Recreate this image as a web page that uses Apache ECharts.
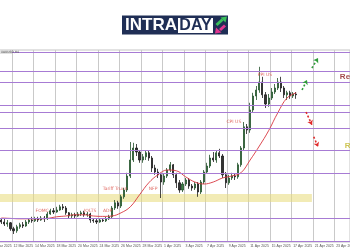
<!DOCTYPE html>
<html><head><meta charset="utf-8">
<script src="https://cdn.jsdelivr.net/npm/echarts@6/dist/echarts.min.js"></script>
<style>html,body{margin:0;padding:0;background:#fff}#c{width:350px;height:250px}</style>
</head><body><div id="c"></div>
<script>
// ---- data ----
const tickLabels = ['10 Mar 2025','12 Mar 2025','14 Mar 2025','18 Mar 2025','20 Mar 2025','24 Mar 2025','26 Mar 2025','28 Mar 2025','1 Apr 2025','3 Apr 2025','7 Apr 2025','9 Apr 2025','11 Apr 2025','15 Apr 2025','17 Apr 2025','21 Apr 2025','23 Apr 2025'];
const opens = [3055,3050,3045,3048,3033,3028,3038,3043,3040,3050,3055,3053,3058,3055,3060,3058,3070,3078,3075,3080,3088,3085,3073,3065,3068,3065,3070,3073,3068,3070,3055,3053,3050,3055,3053,3058,3063,3085,3098,3090,3113,3130,3165,3205,3235,3225,3205,3213,3223,3210,3185,3175,3168,3150,3165,3180,3193,3168,3148,3130,3145,3155,3140,3135,3145,3125,3150,3175,3190,3210,3205,3223,3215,3168,3148,3160,3165,3163,3193,3235,3288,3280,3330,3365,3380,3400,3368,3345,3360,3375,3385,3400,3385,3368,3373,3365,3370];
const closes = [3050,3045,3048,3033,3028,3038,3043,3040,3050,3055,3053,3058,3055,3060,3058,3070,3078,3075,3080,3088,3085,3073,3065,3068,3065,3070,3073,3068,3070,3055,3053,3050,3055,3053,3058,3063,3085,3098,3090,3113,3130,3165,3205,3235,3225,3205,3213,3223,3210,3185,3175,3168,3150,3165,3180,3193,3168,3148,3130,3145,3155,3140,3135,3145,3125,3150,3175,3190,3210,3205,3223,3215,3168,3148,3160,3165,3163,3193,3235,3288,3280,3330,3365,3380,3400,3368,3345,3360,3375,3385,3400,3385,3368,3373,3365,3370,3368];
const highs = [3060,3058,3055,3050,3038,3043,3048,3050,3055,3060,3063,3063,3063,3065,3065,3075,3083,3085,3088,3093,3095,3090,3075,3073,3073,3075,3078,3078,3075,3073,3060,3058,3060,3060,3063,3068,3090,3105,3103,3118,3135,3173,3250,3248,3245,3230,3220,3228,3230,3215,3193,3183,3173,3170,3185,3200,3195,3173,3155,3150,3160,3160,3145,3150,3150,3155,3180,3198,3218,3225,3230,3233,3220,3175,3168,3173,3170,3198,3240,3300,3295,3348,3373,3390,3438,3413,3375,3370,3385,3395,3410,3413,3390,3378,3378,3375,3375];
const lows = [3045,3040,3038,3028,3020,3023,3033,3035,3038,3045,3048,3050,3050,3053,3050,3055,3068,3070,3073,3078,3080,3068,3058,3060,3060,3063,3065,3063,3063,3048,3048,3045,3048,3050,3050,3055,3060,3080,3083,3085,3108,3125,3160,3200,3215,3198,3198,3205,3203,3175,3168,3160,3110,3143,3160,3175,3160,3135,3123,3125,3140,3133,3128,3130,3113,3120,3145,3170,3185,3200,3198,3210,3160,3135,3143,3155,3155,3158,3188,3230,3270,3273,3325,3355,3373,3360,3335,3338,3355,3370,3380,3375,3360,3355,3358,3360,3358];
const maCandle = [0,3,6,9,12,15,18,21,24,27,30,33,36,39,42,45,48,51,54,57,60,63,66,69,72,75,78,81,84,87,90,93,96];
const maValues = [3060,3059,3058,3058,3058,3059,3063,3065,3068,3068,3065,3064,3065,3073,3088,3118,3148,3168,3180,3178,3163,3150,3145,3150,3160,3165,3173,3205,3240,3278,3323,3360,3373];
const levels = [3475,3427.5,3400,3342.5,3325,3285,3230,3172.5,3060,3001];
const bandLow = 3100, bandHigh = 3120, bandFrom = -0.5, bandTo = 104.1;
const eventNames = ['FOMC','JOLTS','ADP','Tariff Truce','NFP','CPI US','PPI US'];
const eventSlot = [16.3,31.9,37.6,40.0,52.4,78.7,88.8];
const eventPrice = [3078,3078,3078,3133,3133,3300,3418];
const sideNames = ['Resistance','Retest'];
const sideSlot = [113.2,114.8];
const sidePrice = [3413,3240];
const upArrows = [[100.9,3380,102.5,3405],[104.1,3435,106.1,3460]];
const downArrows = [[102.2,3325,104.1,3293],[104.7,3263,106.1,3238]];
const LEAD = 3, SLOTS = 117;

// ---- build ----
const categories = Array.from({length: SLOTS}, (_, i) => i % 7 === 0 ? tickLabels[i / 7] : 'c' + i);
const candleData = Array.from({length: SLOTS}, (_, i) => {
  const k = i - LEAD;
  return (k >= 0 && k < opens.length) ? [opens[k], closes[k], lows[k], highs[k]] : '-';
});
const maData = maCandle.map((k, j) => [k + LEAD, maValues[j]]);
const arrowLines = (arr) => arr.map(a => [{coord: [a[0], a[1]]}, {coord: [a[2], a[3]]}]);
const sideColors = ['#8b1c1c', '#c2b82a'];

const chart = echarts.init(document.getElementById('c'), null, {renderer: 'canvas'});
chart.setOption({
  animation: false,
  backgroundColor: '#ffffff',
  grid: {left: -9.5, right: 0, top: 50, bottom: 8, containLabel: false, outerBoundsMode: 'none',
    show: true, borderColor: '#c4c4c4', borderWidth: 1},
  xAxis: [{
    type: 'category', data: categories, boundaryGap: true,
    axisLine: {show: false}, axisTick: {show: false},
    axisLabel: {interval: 6, fontSize: 3.5, color: '#555', align: 'left', margin: 2, fontFamily: 'Liberation Sans', hideOverlap: false},
    splitLine: {show: true, interval: 6, lineStyle: {color: '#c9c9c9', width: 1}}
  }, {
    type: 'value', min: -0.5, max: SLOTS - 0.5, show: false, splitLine: {show: false}
  }],
  yAxis: {type: 'value', min: 3000, max: 3480, show: false, splitLine: {show: false}},
  series: [
    {
      type: 'candlestick', xAxisIndex: 0, data: candleData, barWidth: 1.6,
      itemStyle: {color: '#3a7f47', color0: '#333333', borderColor: '#22502a', borderColor0: '#1a1a1a', borderWidth: 0.8},
      markLine: {
        silent: true, symbol: 'none', label: {show: false},
        lineStyle: {color: '#a77bd4', width: 1, type: 'solid'},
        data: levels.map(v => ({yAxis: v}))
      },
      z: 3
    },
    {
      type: 'line', xAxisIndex: 1, data: maData, smooth: 0.4, showSymbol: false,
      lineStyle: {color: '#d8373f', width: 0.9}, z: 4,
      markArea: {
        silent: true, itemStyle: {color: 'rgba(232,218,120,0.55)'},
        data: [[{xAxis: bandFrom, yAxis: bandLow}, {xAxis: bandTo, yAxis: bandHigh}]]
      }
    },
    {
      type: 'scatter', xAxisIndex: 1, symbolSize: 0, z: 6,
      data: eventNames.map((n, j) => ({name: n, value: [eventSlot[j], eventPrice[j]]})),
      label: {show: true, position: 'inside', formatter: p => p.name, fontSize: 4.5, color: '#d9473f', fontFamily: 'DejaVu Sans'}
    },
    {
      type: 'scatter', xAxisIndex: 1, symbolSize: 0, z: 6,
      data: sideNames.map((n, j) => ({name: n, value: [sideSlot[j], sidePrice[j]], label: {color: sideColors[j]}})),
      label: {show: true, position: 'right', distance: 0, formatter: p => p.name, fontSize: 8, fontWeight: 'bold', fontFamily: 'Liberation Sans'}
    },
    {
      type: 'scatter', xAxisIndex: 1, data: [], z: 7,
      markLine: {
        silent: true, symbol: ['none', 'arrow'], symbolSize: 4.5, label: {show: false},
        lineStyle: {color: '#2f9c3a', width: 1.6, type: [2, 2]},
        data: arrowLines(upArrows)
      }
    },
    {
      type: 'scatter', xAxisIndex: 1, data: [], z: 7,
      markLine: {
        silent: true, symbol: ['none', 'arrow'], symbolSize: 4.5, label: {show: false},
        lineStyle: {color: '#e02a2a', width: 1.6, type: [2, 2]},
        data: arrowLines(downArrows)
      }
    }
  ],
  graphic: [
    {type: 'rect', left: 0, top: 50, shape: {width: 12, height: 4}, style: {fill: '#e2e2e2'}, z: 10},
    {type: 'text', left: 1, top: 50.5, style: {text: 'XAUUSD,H4', fontSize: 3, fill: '#444', fontFamily: 'DejaVu Sans'}, z: 11},
    {type: 'rect', shape: {x: 122, y: 15.5, width: 106, height: 19}, style: {fill: '#1f2e55'}, z: 10},
    {type: 'text', x: 125, y: 25.5, style: {text: 'INTRA', font: 'bold 17px "Liberation Sans"', fill: '#ffffff', verticalAlign: 'middle'}, z: 11},
    {type: 'rect', shape: {x: 178, y: 18, width: 35, height: 15}, style: {fill: '#ffffff'}, z: 11},
    {type: 'text', x: 195.5, y: 25.8, style: {text: 'DAY', font: 'bold 16px "Liberation Sans"', fill: '#1f2e55', align: 'center', verticalAlign: 'middle'}, z: 12},
    {type: 'polygon', shape: {points: [[215.5,24],[217.5,26],[223.5,20.5],[221.5,18.5]]}, style: {fill: '#3bbf5a'}, z: 12},
    {type: 'polygon', shape: {points: [[220.5,17.5],[227,16.5],[225.5,22.5]]}, style: {fill: '#3bbf5a'}, z: 12},
    {type: 'polygon', shape: {points: [[219,29],[221,31],[226,26.5],[224,24.5]]}, style: {fill: '#e0368f'}, z: 12},
    {type: 'polygon', shape: {points: [[215,33.5],[216,27.5],[221.5,32.5]]}, style: {fill: '#e0368f'}, z: 12}
  ]
});
</script></body></html>
